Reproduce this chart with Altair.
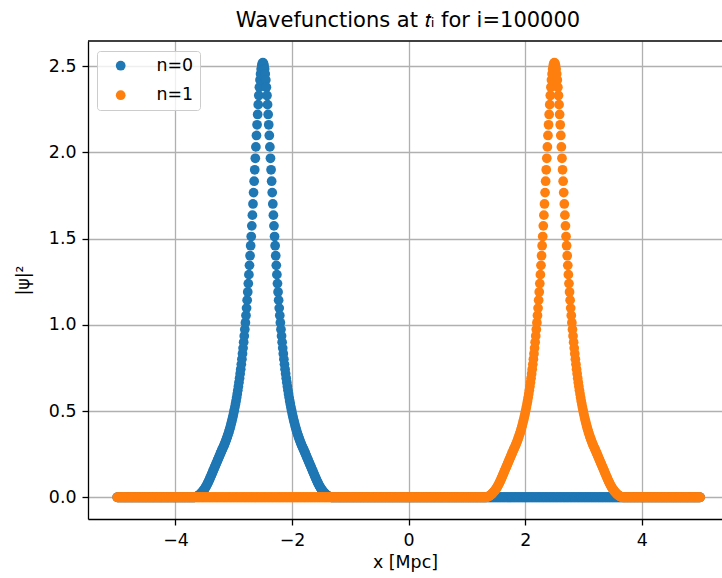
import altair as alt
import pandas as pd

# ---- data ----
series_names = ["n=0", "n=1"]
series_colors = ["#1f77b4", "#ff7f0e"]
peak_centres = [-2.5, 2.5]          # x [Mpc] of each peak
x_start, x_stop = -5.0, 5.0         # sampled x range
grid_per_unit = 100                 # samples per Mpc

# |psi|^2 against distance from a peak centre: 0.00, 0.01, ..., 1.20 Mpc
profile = [
    2.520, 2.516, 2.503, 2.483, 2.455, 2.420, 2.378, 2.330, 2.277, 2.220,
    2.160, 2.098, 2.032, 1.966, 1.899, 1.833, 1.767, 1.701, 1.636, 1.574,
    1.512, 1.459, 1.401, 1.345, 1.291, 1.239, 1.190, 1.143, 1.097, 1.054,
    1.012, 0.973, 0.935, 0.899, 0.865, 0.832, 0.801, 0.771, 0.743, 0.716,
    0.690, 0.666, 0.642, 0.620, 0.599, 0.578, 0.559, 0.541, 0.523, 0.506,
    0.490, 0.474, 0.460, 0.445, 0.432, 0.419, 0.406, 0.395, 0.383, 0.372,
    0.362, 0.351, 0.342, 0.332, 0.323, 0.315, 0.306, 0.298, 0.291, 0.283,
    0.276, 0.268, 0.260, 0.252, 0.244, 0.236, 0.228, 0.220, 0.212, 0.204,
    0.196, 0.188, 0.180, 0.172, 0.164, 0.156, 0.148, 0.140, 0.132, 0.124,
    0.116, 0.108, 0.100, 0.093, 0.086, 0.079, 0.072, 0.066, 0.060, 0.054,
    0.049, 0.044, 0.039, 0.035, 0.031, 0.027, 0.023, 0.020, 0.017, 0.014,
    0.011, 0.009, 0.007, 0.005, 0.003, 0.002, 0.001, 0.000, 0.000, 0.000,
    0.000,
]

x_ticks = [-4, -2, 0, 2, 4]
y_ticks = [0.0, 0.5, 1.0, 1.5, 2.0, 2.5]

# ---- table ----
rows = []
i = 0
k0, k1 = int(round(x_start * grid_per_unit)), int(round(x_stop * grid_per_unit))
for name, c in zip(series_names, peak_centres):
    kc = int(round(c * grid_per_unit))
    for k in range(k0, k1 + 1):
        d = abs(k - kc)
        val = profile[d] if d < len(profile) else 0.0
        rows.append({"x": k / grid_per_unit, "psi2": val, "series": name, "idx": i})
        i += 1
df = pd.DataFrame(rows)

W, H = 634, 478
FONT = "DejaVu Sans"
FS = 17.4
DOT = 95

points = alt.Chart(df).mark_circle(size=DOT, opacity=1, strokeWidth=0).encode(
    x=alt.X("x:Q",
            scale=alt.Scale(domain=[-5.5, 5.375], nice=False, zero=False),
            axis=alt.Axis(values=x_ticks, format="d", title="x [Mpc]", titlePadding=5)),
    y=alt.Y("psi2:Q",
            scale=alt.Scale(domain=[-0.126, 2.646], nice=False, zero=False),
            axis=alt.Axis(values=y_ticks, format=".1f", title="|ψ|²", titlePadding=16)),
    color=alt.Color("series:N",
                    scale=alt.Scale(domain=series_names, range=series_colors),
                    legend=alt.Legend(title=None, orient="none", legendX=9, legendY=10,
                                      padding=6, symbolOffset=9, labelOffset=27,
                                      rowPadding=10.5, symbolSize=DOT, symbolType="circle",
                                      symbolStrokeWidth=0, labelFont=FONT, labelFontSize=FS,
                                      labelColor="black",
                                      fillColor="rgba(255,255,255,0.8)",
                                      strokeColor="#cccccc", cornerRadius=3, zindex=2)),
    order=alt.Order("idx:Q"),
)

top_border = alt.Chart(alt.Data(values=[{}])).mark_rule(color="black", strokeWidth=1.3).encode(
    x=alt.value(0), x2=alt.value(W), y=alt.value(0)
)

chart = alt.layer(points, top_border).properties(
    width=W, height=H,
    title=alt.TitleParams("Wavefunctions at 𝑡ᵢ for i=100000", font=FONT, fontSize=21,
                          fontWeight="normal", color="black", anchor="middle", offset=9, dx=3),
    padding={"left": 88, "top": 41, "right": 0, "bottom": 59},
    autosize=alt.AutoSizeParams(type="none"),
).configure_view(strokeOpacity=0).configure_axis(
    domainColor="black", domainWidth=1.3, tickColor="black", tickWidth=1.3, tickSize=6,
    labelPadding=6, labelFont=FONT, labelFontSize=FS, labelColor="black",
    titleFont=FONT, titleFontSize=FS, titleFontWeight="normal", titleColor="black",
    gridColor="#b0b0b0", gridWidth=1.3, zindex=1, labelOverlap=False,
)

chart.save("out.html", embed_options={"renderer": "svg", "actions": False})
